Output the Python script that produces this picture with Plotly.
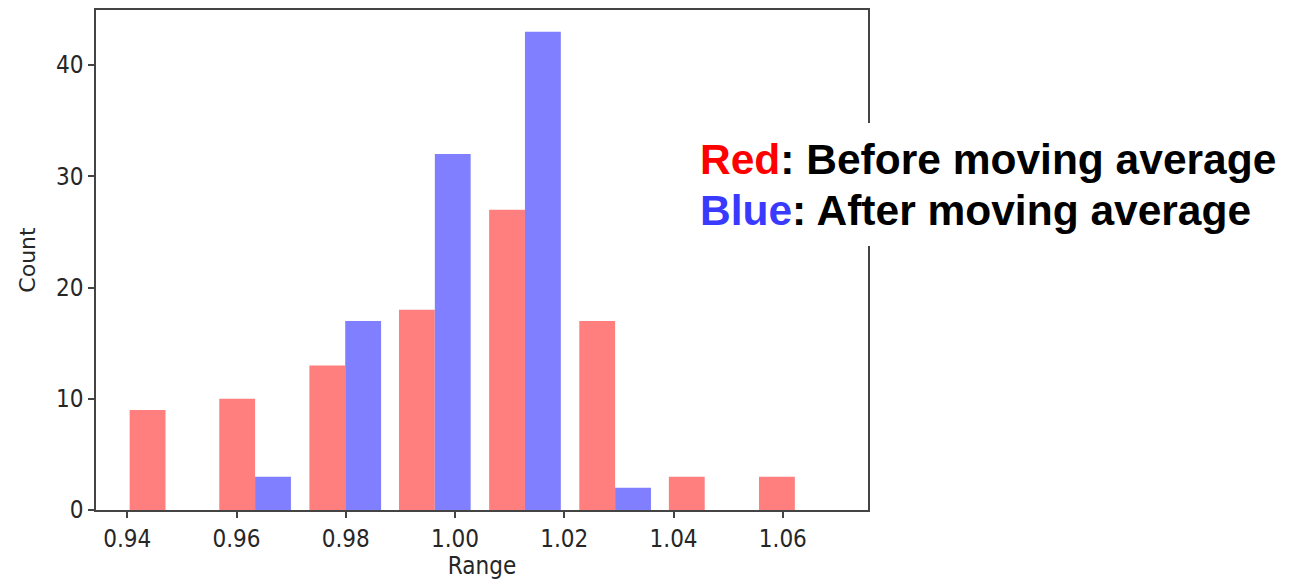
import plotly.graph_objects as go

# Bin centers (Range) and counts
bin_centers = [0.9470, 0.9634, 0.9799, 0.9963, 1.0128, 1.0293, 1.0457, 1.0622]
red_counts = [9, 10, 13, 18, 27, 17, 3, 3]      # before moving average
blue_counts = [0, 3, 17, 32, 43, 2, 0, 0]       # after moving average
x_ticks = [0.94, 0.96, 0.98, 1.00, 1.02, 1.04, 1.06]
y_ticks = [0, 10, 20, 30, 40]

RED_BAR = "#ff7f7f"
BLUE_BAR = "#7f7fff"
FRAME = "#444444"
TICK_FONT = dict(family="DejaVu Sans Condensed, DejaVu Sans", size=24, color="#262626")

fig = go.Figure()
fig.add_trace(go.Bar(x=bin_centers, y=red_counts, marker=dict(color=RED_BAR, line=dict(width=0)),
                     name="Before moving average"))
fig.add_trace(go.Bar(x=bin_centers, y=blue_counts, marker=dict(color=BLUE_BAR, line=dict(width=0)),
                     name="After moving average"))

L, R, T, B = 96, 425, 10, 70
W, H = 1293, 580
pw, ph = W - L - R, H - T - B

def px_to_paper_x(px):
    return (px - L) / pw

def px_to_paper_y(py):
    return (H - B - py) / ph

fig.update_layout(
    width=W, height=H,
    margin=dict(l=L, r=R, t=T, b=B, pad=0),
    paper_bgcolor="white", plot_bgcolor="white",
    barmode="group", bargap=0.2, bargroupgap=0,
    showlegend=False,
    xaxis=dict(
        range=[0.93428, 1.07559], tickvals=x_ticks, tickformat=".2f",
        showgrid=False, zeroline=False,
        showline=True, mirror=True, linecolor=FRAME, linewidth=1.6,
        ticks="outside", ticklen=6, tickwidth=1.5, tickcolor=FRAME,
        tickfont=TICK_FONT,
        title=dict(text="Range", font=TICK_FONT, standoff=6),
        automargin=False,
    ),
    yaxis=dict(
        range=[0, 44.95], tickvals=y_ticks,
        showgrid=False, zeroline=False,
        showline=True, mirror=True, linecolor=FRAME, linewidth=1.6,
        ticks="outside", ticklen=6, tickwidth=1.5, tickcolor=FRAME,
        tickfont=TICK_FONT,
        title=dict(text="Count", font=dict(family="DejaVu Sans", size=22, color="#262626"), standoff=14),
        automargin=False,
    ),
)

# white box that interrupts the right frame behind the note
fig.add_shape(type="rect", xref="paper", yref="paper", layer="above",
              x0=px_to_paper_x(690), x1=px_to_paper_x(1290),
              y0=px_to_paper_y(246), y1=px_to_paper_y(123),
              fillcolor="white", line=dict(width=0))

NOTE_FONT = dict(family="Liberation Sans, Arial, sans-serif", size=42.5, color="black")
fig.add_annotation(xref="paper", yref="paper", x=px_to_paper_x(698), y=px_to_paper_y(159),
                   xanchor="left", yanchor="middle", showarrow=False, font=NOTE_FONT,
                   text="<b><span style='color:#ff0000'>Red</span>: Before moving average</b>")
fig.add_annotation(xref="paper", yref="paper", x=px_to_paper_x(698), y=px_to_paper_y(210),
                   xanchor="left", yanchor="middle", showarrow=False, font=NOTE_FONT,
                   text="<b><span style='color:#3a3aff'>Blue</span>: After moving average</b>")

fig.write_html("out.html")
